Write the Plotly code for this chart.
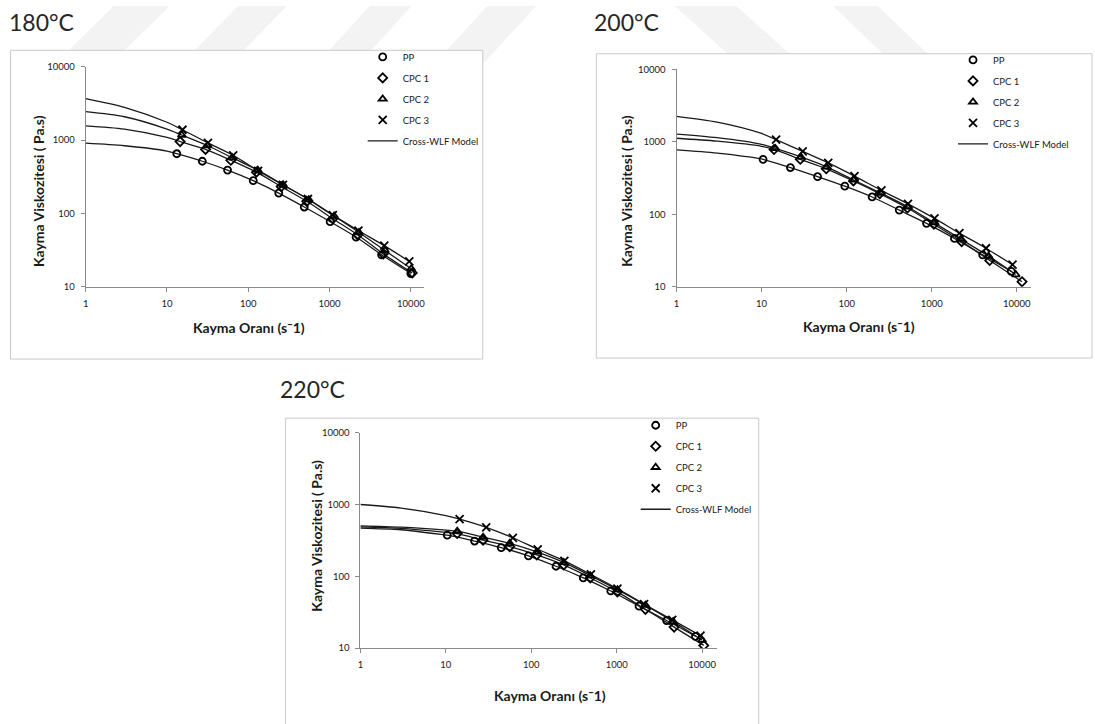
import plotly.graph_objects as go

W, H = 1095, 724

# ---------------- data ----------------
panel_titles = ["180°C", "200°C", "220°C"]
series_names = ["PP", "CPC 1", "CPC 2", "CPC 3"]
model_name = "Cross-WLF Model"

x_tickvals = [1, 10, 100, 1000, 10000]
x_ticktext = ["1", "10", "100", "1000", "10000"]
y_tickvals = [10, 100, 1000, 10000]
y_ticktext = ["10", "100", "1000", "10000"]

# model curve read at low shear rates (before the first measured point)
lead_x = [1, 3, 10]

# 180 °C
pp180_x = [13.2, 27.2, 55.6, 115, 237, 488, 1016, 2118, 4365, 10000]
pp180_y = [651, 514, 389, 279, 189, 122, 77.1, 47.5, 27.2, 15.1]
cpc1_180_x = [14.5, 29.8, 61, 126, 254, 524, 1097, 2214, 4580, 10400]
cpc1_180_y = [953, 745, 530, 365, 232, 146, 84.5, 51, 28.0, 15.4]
cpc2_180_x = [15.2, 31.3, 63.3, 131, 268, 555, 1138, 2301, 4807, 10100]
cpc2_180_y = [1172, 843, 575, 389, 245, 154, 91.9, 54.8, 31.1, 17.6]
cpc3_180_x = [15.5, 31.9, 65.2, 132, 267, 541, 1096, 2262, 4710, 9560]
cpc3_180_y = [1383, 914, 618, 381, 244, 157, 94.7, 58.3, 36.3, 22.1]
lead180_pp = [906, 836, 708]
lead180_cpc1 = [1563, 1410, 1085]
lead180_cpc2 = [2440, 2080, 1412]
lead180_cpc3 = [3680, 2800, 1750]

# 200 °C
pp200_x = [10.4, 21.8, 45.5, 95.1, 199, 415, 868, 1847, 3963, 8590]
pp200_y = [573, 441, 330, 244, 173, 114, 74.8, 46.3, 27.5, 16.3]
cpc1_200_x = [14, 28.5, 57.5, 120, 245, 518, 1060, 2250, 4800, 11500]
cpc1_200_y = [783, 573, 424, 288, 192, 122, 72.6, 41.8, 23, 11.7]
cpc2_200_x = [14.5, 29, 58, 121, 251, 525, 1060, 2196, 4645, 9700]
cpc2_200_y = [810, 617, 451, 297, 196, 126, 76.5, 45.4, 26.4, 14.7]
cpc3_200_x = [14.8, 30.4, 60.7, 123.5, 256, 525, 1077, 2113, 4335, 8895]
cpc3_200_y = [1071, 736, 511, 336, 213, 139, 87.5, 54.8, 33.9, 20.1]
lead200_pp = [774, 698, 580]
lead200_cpc1 = [1118, 1019, 866]
lead200_cpc2 = [1279, 1140, 922]
lead200_cpc3 = [2246, 1867, 1302]

# 220 °C
pp220_x = [10.4, 21.7, 44.5, 92.7, 195, 406, 853, 1825, 3840, 8360]
pp220_y = [374, 310, 251, 193, 138, 95.3, 62.5, 38.5, 24.2, 14.6]
cpc1_220_x = [13.6, 27.3, 56, 116, 240, 491, 1020, 2170, 4700, 10450]
cpc1_220_y = [394, 319, 259, 199, 144, 95, 60.6, 34.7, 19.6, 10.9]
cpc2_220_x = [13.6, 27.3, 56, 116, 240, 491, 1020, 2170, 4580, 10000]
cpc2_220_y = [425, 351, 288, 219, 156, 102, 65.2, 39.7, 23.4, 12.9]
cpc3_220_x = [14.5, 29.7, 60.9, 119, 244, 499, 1020, 2090, 4470, 9570]
cpc3_220_y = [627, 482, 344, 238, 164, 106, 67.3, 41, 24.7, 14.9]
lead220_pp = [470, 445, 376]
lead220_cpc1 = [488, 465, 410]
lead220_cpc2 = [505, 484, 440]
lead220_cpc3 = [1000, 891, 701]

x_title = "Kayma Oranı (s¯1)"
y_title = "Kayma Viskozitesi ( Pa.s)"

# ---------------- layout geometry (window pixels) ----------------
panels = [
    dict(title=panel_titles[0], title_xy=(4, 0),
         box=(7.5, 45, 481.5, 358.5),
         xpx=(83, 423), xmax=4.167, ypx=(285, 61.7),
         xt=(246.5, 326), yt=(35, 188), leg=(361, 37),
         data=[(pp180_x, pp180_y, lead180_pp), (cpc1_180_x, cpc1_180_y, lead180_cpc1),
               (cpc2_180_x, cpc2_180_y, lead180_cpc2), (cpc3_180_x, cpc3_180_y, lead180_cpc3)]),
    dict(title=panel_titles[1], title_xy=(591, 0),
         box=(595.5, 48.5, 1093, 357.5),
         xpx=(676, 1032), xmax=4.169, ypx=(285, 64.3),
         xt=(859, 325), yt=(625, 188), leg=(953.5, 40),
         data=[(pp200_x, pp200_y, lead200_pp), (cpc1_200_x, cpc1_200_y, lead200_cpc1),
               (cpc2_200_x, cpc2_200_y, lead200_cpc2), (cpc3_200_x, cpc3_200_y, lead200_cpc3)]),
    dict(title=panel_titles[2], title_xy=(276, 373),
         box=(283.5, 418.5, 758.5, 740),
         xpx=(358.7, 716.7), xmax=4.175, ypx=(652, 433.3),
         xt=(549, 700), yt=(315, 538), leg=(635, 411),
         data=[(pp220_x, pp220_y, lead220_pp), (cpc1_220_x, cpc1_220_y, lead220_cpc1),
               (cpc2_220_x, cpc2_220_y, lead220_cpc2), (cpc3_220_x, cpc3_220_y, lead220_cpc3)]),
]

# faint background watermark bands (top strip): (x_top_left, x_top_right, shift at y=60)
bands = [(111, 167, -60), (236, 285, -58), (368, 410, -54), (486, 535, -54),
         (674, 736, 66), (833, 878, 62)]

symbols = ["circle-open", "diamond-open", "triangle-up-open", "x-thin"]
sizes = [7, 7, 7, 8]

FONT = "Lato, 'Open Sans', Arial, sans-serif"
AX_COLOR = "#8a8a8a"


def px_x(p):
    return p / W


def px_y(p):
    return 1 - p / H


fig = go.Figure()
shapes, annotations = [], []
layout = dict()

for (a, b, s) in bands:
    path = (f"M {px_x(a)},{px_y(0)} L {px_x(b)},{px_y(0)} "
            f"L {px_x(b + s)},{px_y(60)} L {px_x(a + s)},{px_y(60)} Z")
    shapes.append(dict(type="path", xref="paper", yref="paper", layer="below",
                       path=path, fillcolor="#f3f3f3", line=dict(width=0)))

for i, P in enumerate(panels):
    n = "" if i == 0 else str(i + 1)
    xa, ya = "x" + n, "y" + n
    leg = "legend" + n

    # model curves (drawn first, underneath markers)
    for k, (dx, dy, lead) in enumerate(P["data"]):
        fig.add_trace(go.Scatter(
            x=lead_x + dx, y=lead + dy, mode="lines",
            line=dict(color="#1a1a1a", width=1.3, shape="spline", smoothing=0.8),
            name=model_name, showlegend=(k == 0), legend=leg,
            legendgroup=f"p{i}_model", legendrank=10,
            xaxis=xa, yaxis=ya, hoverinfo="skip"))
    for k, (dx, dy, lead) in enumerate(P["data"]):
        fig.add_trace(go.Scatter(
            x=dx, y=dy, mode="markers", name=series_names[k],
            marker=dict(symbol=symbols[k], size=sizes[k], color="#000000",
                        line=dict(color="#000000", width=1.8)),
            legend=leg, legendgroup=f"p{i}_{k}", legendrank=k + 1,
            xaxis=xa, yaxis=ya))

    x0, x1 = P["xpx"]
    yb, yt = P["ypx"]
    layout["xaxis" + n] = dict(
        type="log", range=[0, P["xmax"]], domain=[px_x(x0), px_x(x1)],
        anchor=ya, showgrid=False, zeroline=False, showline=True,
        linecolor=AX_COLOR, linewidth=1, ticks="outside", ticklen=4,
        tickcolor=AX_COLOR, tickvals=x_tickvals, ticktext=x_ticktext,
        tickfont=dict(family=FONT, size=9.5, color="#1a1a1a"),
        ticklabelstandoff=4, fixedrange=True)
    layout["yaxis" + n] = dict(
        type="log", range=[1, 4], domain=[px_y(yb), px_y(yt)],
        anchor=xa, showgrid=False, zeroline=False, showline=True,
        linecolor=AX_COLOR, linewidth=1, ticks="outside", ticklen=4,
        tickcolor=AX_COLOR, tickvals=y_tickvals, ticktext=y_ticktext,
        tickfont=dict(family=FONT, size=9.5, color="#1a1a1a"),
        ticklabelstandoff=4, fixedrange=True)
    lx, ly = P["leg"]
    layout[leg] = dict(
        x=px_x(lx), y=px_y(ly), xanchor="left", yanchor="top",
        xref="paper", yref="paper", bgcolor="rgba(0,0,0,0)",
        font=dict(family=FONT, size=9.5, color="#1a1a1a"),
        traceorder="grouped", tracegroupgap=2, itemwidth=30)

    bx0, by0, bx1, by1 = P["box"]
    shapes.append(dict(type="rect", xref="paper", yref="paper", layer="below",
                       x0=px_x(bx0), x1=px_x(bx1), y0=px_y(by1), y1=px_y(by0),
                       line=dict(color="#c9c9c9", width=1), fillcolor="#ffffff"))

    tx, ty = P["title_xy"]
    annotations.append(dict(text=P["title"], xref="paper", yref="paper",
                            x=px_x(tx), y=px_y(ty), xanchor="left", yanchor="top",
                            showarrow=False,
                            font=dict(family=FONT, size=23, color="#262626")))
    cx, cy = P["xt"]
    annotations.append(dict(text=f"<b>{x_title}</b>", xref="paper", yref="paper",
                            x=px_x(cx), y=px_y(cy), xanchor="center", yanchor="middle",
                            showarrow=False,
                            font=dict(family=FONT, size=14, color="#1a1a1a")))
    cx, cy = P["yt"]
    annotations.append(dict(text=f"<b>{y_title}</b>", xref="paper", yref="paper",
                            x=px_x(cx), y=px_y(cy), xanchor="center", yanchor="middle",
                            textangle=-90, showarrow=False,
                            font=dict(family=FONT, size=14, color="#1a1a1a")))

fig.update_layout(
    width=W, height=H, autosize=False,
    margin=dict(l=0, r=0, t=0, b=0, pad=0),
    paper_bgcolor="#ffffff", plot_bgcolor="rgba(0,0,0,0)",
    shapes=shapes, annotations=annotations,
    hovermode=False,
    **layout)

fig.write_html("out.html", config={"displayModeBar": False},
               post_script="document.body.style.margin='0';"
                           "document.body.style.overflow='hidden';")
